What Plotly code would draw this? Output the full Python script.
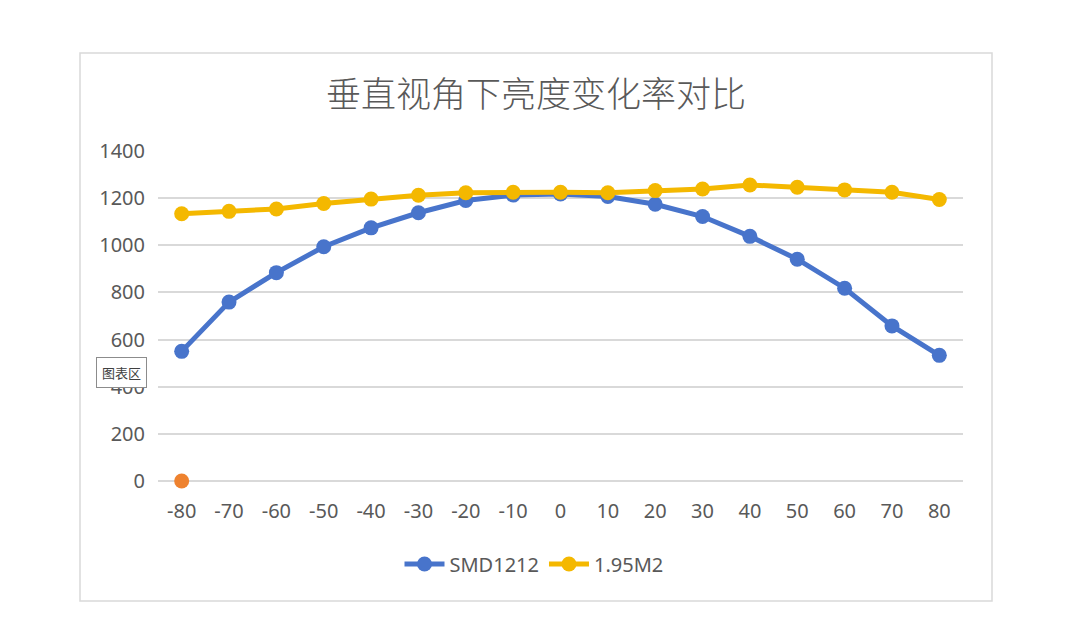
import plotly.graph_objects as go

angles = [-80, -70, -60, -50, -40, -30, -20, -10, 0, 10, 20, 30, 40, 50, 60, 70, 80]
smd1212 = [550, 759, 884, 994, 1074, 1138, 1190, 1213, 1218, 1207, 1174, 1122, 1038, 941, 818, 658, 533]
m2_195 = [1134, 1144, 1154, 1177, 1196, 1212, 1223, 1225, 1225, 1223, 1232, 1239, 1256, 1246, 1235, 1225, 1194]
extra_x = [-80]
extra_y = [0]

title = "垂直视角下亮度变化率对比"
y_ticks = [0, 200, 400, 600, 800, 1000, 1200, 1400]

W, H = 1070, 635
OFF = 8  # page body margin
L, R, T, B = 158, 963, 151, 481  # plot area in screenshot pixels


def px_x(p):
    return (p - L) / (R - L)


def px_y(p):
    return (B - p) / (B - T)


fig = go.Figure()

fig.add_trace(go.Scatter(
    x=angles, y=smd1212, name="SMD1212", mode="lines+markers",
    line=dict(color="#4874CB", width=5),
    marker=dict(size=15, color="#4874CB"),
))
fig.add_trace(go.Scatter(
    x=angles, y=m2_195, name="1.95M2", mode="lines+markers",
    line=dict(color="#F4B800", width=5),
    marker=dict(size=15, color="#F4B800"),
))
fig.add_trace(go.Scatter(
    x=extra_x, y=extra_y, mode="markers", showlegend=False, cliponaxis=False,
    marker=dict(size=15, color="#EE822F"),
))

fig.update_layout(
    width=W, height=H,
    margin=dict(l=L - OFF, r=W - R + OFF, t=T - OFF, b=H - B + OFF),
    paper_bgcolor="white", plot_bgcolor="white",
    font=dict(family="Noto Sans, Liberation Sans, sans-serif", size=20, color="#595959"),
    title=dict(
        text=title, x=(536 - OFF) / W, xanchor="center", xref="container",
        y=1 - (95 - OFF) / H, yanchor="middle", yref="container",
        font=dict(family="Noto Sans CJK SC", size=35, color="#595959", weight=300),
    ),
    legend=dict(
        orientation="h", x=px_x(534), xanchor="center", y=px_y(564), yanchor="middle",
        font=dict(size=20, color="#595959"), itemwidth=40,
    ),
    shapes=[dict(
        type="rect", xref="paper", yref="paper",
        x0=px_x(80), x1=px_x(992), y0=px_y(601), y1=px_y(53),
        line=dict(color="#D9D9D9", width=1.5), fillcolor="rgba(0,0,0,0)", layer="below",
    )],
    annotations=[dict(
        text="图表区", xref="paper", yref="paper",
        x=px_x(121.5), y=px_y(372), xanchor="center", yanchor="middle",
        showarrow=False, bgcolor="white", bordercolor="#8C8C8C", borderwidth=1,
        borderpad=5, font=dict(family="Noto Sans CJK SC", size=13, color="#404040"),
    )],
)

fig.update_xaxes(
    range=[-85, 85], tickmode="array", tickvals=angles, ticktext=[str(a) for a in angles],
    showgrid=False, zeroline=False, showline=False, ticks="", ticklabelstandoff=16,
)
fig.update_yaxes(
    range=[0, 1400], tickmode="array", tickvals=y_ticks,
    showgrid=True, gridcolor="#D9D9D9", gridwidth=1.5,
    zeroline=True, zerolinecolor="#D9D9D9", zerolinewidth=1.5,
    showline=False, ticks="", ticklabelstandoff=12,
)

fig.write_html("out.html")
